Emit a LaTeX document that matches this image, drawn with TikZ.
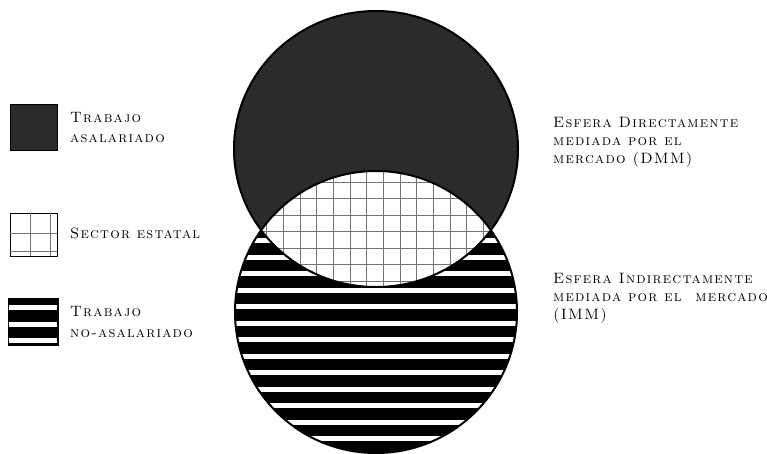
\documentclass[tikz,border=0pt]{standalone}
\usepackage{fontspec}
\newfontfamily\capsfam{lmroman10-regular}[Extension=.otf, SmallCapsFont=lmromancaps10-regular, LetterSpace=8, SmallCapsFeatures={LetterSpace=8}]
\definecolor{crescent}{gray}{0.17}
\definecolor{gridgray}{gray}{0.45}
\newcommand{\capsfont}{\capsfam\fontsize{15}{18.3}\selectfont\scshape}
\begin{document}
\begin{tikzpicture}[x=1pt, y=-1pt,
    every node/.style={font=\capsfont, anchor=north west, inner sep=0pt, align=left},
    legend/.style={font=\capsfont\fontsize{15}{20.5}\selectfont}]
  \useasboundingbox (0,0) rectangle (767,453);
  \coordinate (dmm) at (376,149);
  \coordinate (imm) at (376,312);

  % upper circle
  \fill[crescent] (dmm) ellipse (142pt and 138pt);

  % lower circle, striped
  \fill[black] (imm) circle (141pt);
  \begin{scope}
    \clip (imm) circle (141pt);
    \foreach \k in {-1,...,13}
      \fill[white] (230,{238+16.5*\k}) rectangle (530,{243+16.5*\k});
  \end{scope}

  % overlap, gridded
  \begin{scope}
    \clip (dmm) ellipse (142pt and 138pt);
    \clip (imm) circle (141pt);
    \fill[white] (230,160) rectangle (530,300);
    \foreach \k in {-5,...,11}
      \draw[gridgray, line width=0.8pt] ({316.7+16.67*\k},160) -- ({316.7+16.67*\k},300);
    \foreach \k in {-1,...,7}
      \draw[gridgray, line width=0.8pt] (230,{182+16.5*\k}) -- (530,{182+16.5*\k});
  \end{scope}
  \draw[line width=2pt] (dmm) ellipse (142pt and 138pt) (imm) circle (141pt);

  % legend
  \node[draw, fill=crescent, minimum width=47pt, minimum height=46pt] (boxa) at (10,104) {};
  \node[legend] (laba) at (70,112) {Trabajo\\asalariado};

  \node[draw, fill=white, minimum width=47pt, minimum height=43pt] (boxb) at (10,213) {};
  \foreach \x in {30,50}
    \draw[gridgray] (\x,213) -- (\x,256);
  \foreach \y in {233,251}
    \draw[gridgray] (10,\y) -- (57,\y);
  \node[legend] (labb) at (70,228) {Sector estatal};

  \node[draw, fill=black, minimum width=50pt, minimum height=47pt] (boxc) at (8,298) {};
  \foreach \d in {7,24,40}
    \fill[white] (9,{298+\d}) rectangle (57,{303+\d});
  \node[legend] (labc) at (70,306.5) {Trabajo\\no-asalariado};

  % sphere labels
  \node (esfa) at (553,116.8) {Esfera Directamente\\mediada por el\\mercado (DMM)};
  \node (esfb) at (553,272.8) {Esfera Indirectamente\\mediada por el\ \ mercado\\(IMM)};
\end{tikzpicture}
\end{document}
